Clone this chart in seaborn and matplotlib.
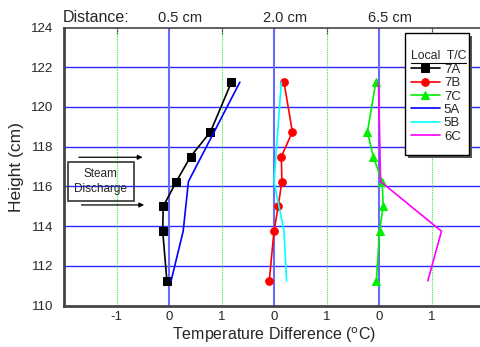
import numpy as np
import pandas as pd
import matplotlib
matplotlib.use("Agg")
import matplotlib.pyplot as plt
import seaborn as sns
from matplotlib.lines import Line2D
from matplotlib.patches import Rectangle

# heights of the thermocouples (cm)
h7 = [121.25, 118.75, 117.5, 116.25, 115.0, 113.75, 111.25]
h_line = [121.25, 116.25, 113.75, 111.25]

# temperature difference (C), relative to each distance group
t7A = [1.19, 0.79, 0.41, 0.14, -0.11, -0.12, -0.04]
t7B = [0.19, 0.35, 0.14, 0.15, 0.08, 0.0, -0.09]
t7C = [-0.06, -0.22, -0.11, 0.06, 0.08, 0.01, -0.05]
t5A = [1.35, 0.37, 0.27, 0.04]
t5B = [0.14, 0.0, 0.19, 0.24]
t6C = [-0.01, 0.03, 1.19, 0.93]

distances = ["0.5 cm", "2.0 cm", "6.5 cm"]
offsets = [0, 2, 4]
xtick_pos = [-1, 0, 1, 2, 3, 4, 5]
xtick_lab = ["-1", "0", "1", "0", "1", "0", "1"]

sns.set_style("white")
plt.rcParams['font.family'] = ['Liberation Sans', 'DejaVu Sans']

W, H = 480, 347
fig = plt.figure(figsize=(4.8, 3.47), dpi=100)
ax = fig.add_axes([64/W, 41.3/H, 420/W, 278.2/H])

# grid lines
for y in [112, 114, 116, 118, 120, 122]:
    ax.axhline(y, color='#2a2aff', lw=1.0, zorder=1)
for x in offsets:
    ax.axvline(x, color='#6a6aff', lw=1.5, zorder=1)
for x in [-1, 1, 3, 5]:
    ax.axvline(x, color='#33ee33', lw=0.8, ls=(0, (1, 1)), zorder=1)

series = [
    ("7A", h7, t7A, 0, 'black', 's'),
    ("7B", h7, t7B, 2, '#ff0000', 'o'),
    ("7C", h7, t7C, 4, '#00ee00', '^'),
    ("5A", h_line, t5A, 0, '#0000ff', None),
    ("5B", h_line, t5B, 2, '#00ffff', None),
    ("6C", h_line, t6C, 4, '#ff00ff', None),
]
for name, h, t, off, col, mk in series:
    df = pd.DataFrame({"x": np.array(t) + off, "y": h})
    sns.lineplot(data=df, x="x", y="y", sort=False, estimator=None, color=col,
                 marker=mk, markersize=5.5, markeredgecolor=col, lw=1.2,
                 label=name, ax=ax, zorder=3)

ax.set_xlim(-2, 6)
ax.set_ylim(110, 124)
ax.set_yticks(range(110, 125, 2))
ax.set_xticks(xtick_pos)
ax.set_xticklabels(xtick_lab)
ax.tick_params(axis='both', labelsize=9.5, direction='in', length=4,
               color='#333333', top=True)
ax.tick_params(axis='y', direction='inout', length=8)
for s in ['left', 'bottom']:
    ax.spines[s].set_linewidth(2)
    ax.spines[s].set_color('#444444')
ax.spines['top'].set_linewidth(1.2)
ax.spines['top'].set_color('#444444')
ax.spines['right'].set_visible(False)

ax.set_xlabel("Temperature Difference ($^{\\rm o}$C)", fontsize=11.5, labelpad=2)
ax.set_ylabel("Height (cm)", fontsize=12.5, labelpad=5)

# distance labels along the top
ax.text(-2.02, 124.15, "Distance:", fontsize=11.5, ha='left', va='bottom')
for d, off in zip(distances, offsets):
    ax.text(off + 0.21, 124.15, d, fontsize=10.5, ha='center', va='bottom')

# steam discharge annotation
ax.add_patch(Rectangle((-1.92, 115.27), 1.25, 1.98, fill=False, ec='#333333',
                       lw=1.2, zorder=4))
ax.text(-1.3, 116.26, "Steam\nDischarge", fontsize=8.5, ha='center',
        va='center', linespacing=1.3)
for ya, x0, x1 in [(117.47, -1.77, -0.45), (115.07, -1.72, -0.42)]:
    ax.annotate("", xy=(x1, ya), xytext=(x0, ya),
                arrowprops=dict(arrowstyle='-|>', color='black', lw=0.9,
                                mutation_scale=7))

# legend box with a drop shadow, drawn by hand
ax.add_artist(Rectangle((408/W, 1 - 158/H), 64/W, 122/H, transform=fig.transFigure,
                        fc='#555555', ec='none', zorder=4, clip_on=False))
ax.add_artist(Rectangle((405/W, 1 - 155/H), 64/W, 122/H, transform=fig.transFigure,
                        fc='white', ec='black', lw=1.0, zorder=4.5, clip_on=False))

leg = ax.legend(loc='upper left', bbox_to_anchor=(0.826, 0.918), title="Local  T/C",
                fontsize=9.5, title_fontsize=8.8, frameon=False,
                handlelength=2.2, handletextpad=0.3, labelspacing=0.09,
                borderpad=0, borderaxespad=0)
leg._legend_box.align = "left"
leg.set_zorder(6)

# underline the legend title
fig.canvas.draw()
bb = leg.get_title().get_window_extent()
yline = (bb.y0 - 0.5) / fig.bbox.height
ax.add_artist(Line2D([bb.x0 / W, bb.x1 / W], [yline, yline], transform=fig.transFigure,
                     color='black', lw=0.8, zorder=7, clip_on=False))

fig.savefig("out.png", dpi=100)
